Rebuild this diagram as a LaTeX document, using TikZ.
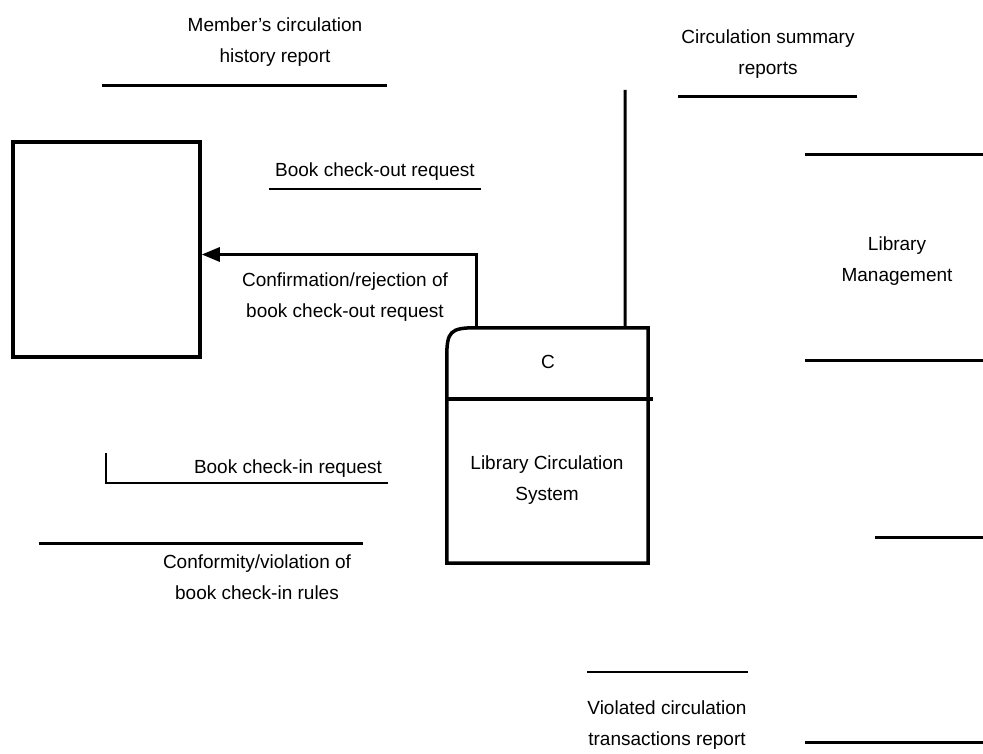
\documentclass[tikz,border=0pt]{standalone}
\usepackage{fontspec}
\setmainfont{Liberation Sans}
\usetikzlibrary{arrows.meta}
\begin{document}
\begin{tikzpicture}[x=1pt,y=-1pt,
  lbl/.style={align=center, font=\fontsize{19}{31}\selectfont, inner sep=0pt},
  boxline/.style={line width=3.5pt},
  flow/.style={line width=3pt},
  store/.style={line width=3pt}]
\useasboundingbox (0,0) rectangle (983,754);
% external entity (left)
\node[draw, boxline, minimum width=187pt, minimum height=215pt, inner sep=0pt] (ext) at (106.5,249.5) {};
% process
\node[minimum width=201pt, minimum height=235pt, inner sep=0pt] (proc) at (547.5,445.5) {};
\draw[boxline] ([yshift=-28pt]proc.north west) .. controls ([yshift=-4pt]proc.north west) and ([xshift=4pt]proc.north west) .. ([xshift=28pt]proc.north west)
  -- (proc.north east) -- (proc.south east) -- (proc.south west) -- cycle;
\draw[boxline] ([yshift=-71pt]proc.north west) -- ([yshift=-71pt,xshift=5pt]proc.north east);
\node[lbl] (pid) at (548,362) {C};
\node[lbl] (pname) at (547,480) {Library Circulation\\System};
% flows
\draw[flow,-{Triangle[length=18pt,width=14pt]}] ([xshift=30pt]proc.north west) |- ([yshift=-5pt]ext.east);
\node[lbl] (conf) at (345,297) {Confirmation/rejection of\\book check-out request};
\coordinate (sumtop) at (625,90);
\draw[flow] (sumtop) -- ([xshift=-23pt]proc.north east);
% labels and stores
\node[lbl] (member) at (275,42) {Member's circulation\\history report};
\coordinate (m1) at (102,86); \coordinate (m2) at (387,86);
\draw[store] (m1) -- (m2);
\node[lbl] (checkout) at (375,172) {Book check-out request};
\coordinate (co1) at (269,189); \coordinate (co2) at (481,189);
\draw[line width=2pt] (co1) -- (co2);
\node[lbl] (summary) at (768,54) {Circulation summary\\reports};
\coordinate (s1) at (678,97); \coordinate (s2) at (857,97);
\draw[store] (s1) -- (s2);
% Library Management (partial)
\coordinate (lm1) at (805,155); \coordinate (lm2) at (983,155);
\coordinate (lm3) at (805,360); \coordinate (lm4) at (983,360);
\draw[store] (lm1) -- (lm2);
\draw[store] (lm3) -- (lm4);
\node[lbl] (lm) at (897,261) {Library\\Management};
% bottom right
\coordinate (br1) at (875,537); \coordinate (br2) at (983,537);
\draw[store] (br1) -- (br2);
\coordinate (br3) at (805,742); \coordinate (br4) at (983,742);
\draw[store] (br3) -- (br4);
\coordinate (v1) at (587,672); \coordinate (v2) at (748,672);
\draw[line width=2.5pt] (v1) -- (v2);
\node[lbl] (viol) at (667,725) {Violated circulation\\transactions report};
% bottom left
\node[lbl] (checkin) at (288,469) {Book check-in request};
\coordinate (ci0) at (106,453); \coordinate (ci1) at (106,483); \coordinate (ci2) at (388,483);
\draw[line width=2.5pt] (ci0) -- (ci1) -- (ci2);
\coordinate (cf1) at (39,543); \coordinate (cf2) at (363,543);
\draw[store] (cf1) -- (cf2);
\node[lbl] (conform) at (257,577) {Conformity/violation of\\book check-in rules};
\end{tikzpicture}
\end{document}
